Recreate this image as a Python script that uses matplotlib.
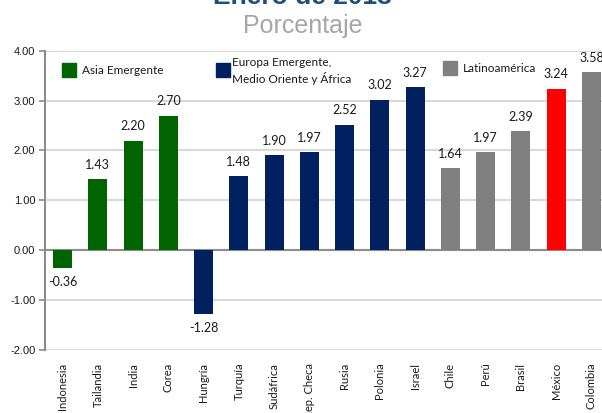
import matplotlib
matplotlib.use("Agg")
import matplotlib.pyplot as plt
from matplotlib.patches import Rectangle

# Inflación anual por país, enero de 2013 (porcentaje)
paises = ["Indonesia", "Tailandia", "India", "Corea", "Hungría", "Turquía",
          "Sudáfrica", "Rep. Checa", "Rusia", "Polonia", "Israel", "Chile",
          "Perú", "Brasil", "México", "Colombia"]
valores = [-0.36, 1.43, 2.20, 2.70, -1.28, 1.48, 1.90, 1.97, 2.52, 3.02,
           3.27, 1.64, 1.97, 2.39, 3.24, 3.58]
regiones = ["asia"] * 4 + ["europa"] * 7 + ["latam"] * 5
y_ticks = [-2.0, -1.0, 0.0, 1.0, 2.0, 3.0, 4.0]
nombres_region = {"asia": "Asia Emergente",
                  "europa": "Europa Emergente,\nMedio Oriente y África",
                  "latam": "Latinoamérica"}

colores_region = {"asia": "#006400", "europa": "#002060", "latam": "#808080"}
color_destacado = "#FF0000"
pais_destacado = "México"

TXT = "Lato"
W, H = 602, 413
fig = plt.figure(figsize=(W / 100, H / 100), dpi=100)
ax = fig.add_axes([45 / W, 1 - 349.5 / H, 564 / W, 298.5 / H])

colores = [color_destacado if p == pais_destacado else colores_region[r]
           for p, r in zip(paises, regiones)]
x = list(range(len(paises)))
ax.bar(x, valores, width=0.54, color=colores, zorder=3)

for xi, v in zip(x, valores):
    if v >= 0:
        ax.annotate(f"{v:.2f}", (xi, v), xytext=(0, 6), textcoords="offset points",
                    ha="center", va="bottom", fontsize=9, family=TXT, color="#1a1a1a")
    else:
        ax.annotate(f"{v:.2f}", (xi, v), xytext=(0, -6), textcoords="offset points",
                    ha="center", va="top", fontsize=9, family=TXT, color="#1a1a1a")

ax.set_xlim(-0.5, len(paises) - 0.5)
ax.set_ylim(-2, 4)
ax.set_yticks(y_ticks)
ax.set_yticklabels([f"{t:.2f}" for t in y_ticks], family="Liberation Sans",
                   fontsize=8, color="#1a1a1a")
ax.yaxis.grid(True, color="#D9D9D9", lw=1.5, zorder=0)
ax.axhline(0, color="#8C8C8C", lw=1.5, zorder=2)
ax.tick_params(axis="y", length=4, width=1.2, color="#8C8C8C", pad=3)

ax.set_xticks(x)
ax.set_xticklabels(paises, rotation=90, family=TXT, fontsize=8,
                   color="#1a1a1a", va="top", ha="center")
ax.tick_params(axis="x", length=0, pad=9.5)

for s in ["top", "right", "bottom"]:
    ax.spines[s].set_visible(False)
ax.spines["left"].set_color("#8C8C8C")
ax.spines["left"].set_linewidth(1.5)

# Leyenda por región
def px(xp, yp):
    return xp / W, 1 - yp / H

leyenda = [("asia", 62, 63, 82, 70), ("europa", 216, 63, 232, 71),
           ("latam", 443, 61, 463, 69)]
for reg, sx, sy, tx, ty in leyenda:
    fx, fy = px(sx, sy + 14)
    fig.add_artist(Rectangle((fx, fy), 14 / W, 14 / H, transform=fig.transFigure,
                             color=colores_region[reg]))
    tx_, ty_ = px(tx, ty)
    fig.text(tx_, ty_, nombres_region[reg], ha="left", va="center", family=TXT,
             fontsize=8.5, color="#1a1a1a", linespacing=1.35)

fig.text(302 / W, 1 - 3.5 / H, "Enero de 2013", ha="center", va="baseline",
         family="Liberation Sans", fontweight="bold", fontsize=19, color="#1F4E79")
fig.text(303 / W, 1 - 33 / H, "Porcentaje", ha="center", va="baseline",
         family="Liberation Sans", fontsize=18, color="#A6A6A6")

fig.savefig("out.png", dpi=100)
